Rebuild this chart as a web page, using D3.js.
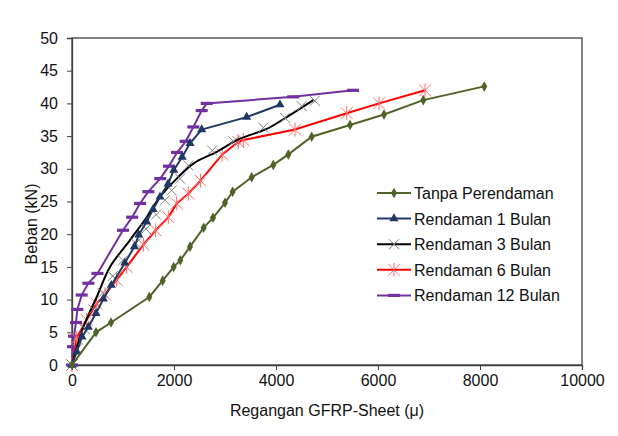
<!DOCTYPE html>
<html>
<head>
<meta charset="utf-8">
<script src="https://cdn.jsdelivr.net/npm/d3@7"></script>
<style>
  body { margin: 0; background: #fff; }
  text { font-family: Arial, "Liberation Sans", sans-serif; }
</style>
</head>
<body>
<div id="chart"></div>
<script>
// data: strain (micro) and load (kN)
var tanpaX = [0, 471, 765, 1516, 1778, 1993, 2124, 2314, 2582, 2765, 3000, 3150, 3523, 3947, 4242, 4700, 5451, 6118, 6888, 8084];
var tanpaY = [0, 5.0, 6.5, 10.4, 12.9, 15.0, 16.0, 18.1, 21.0, 22.5, 24.8, 26.5, 28.7, 30.6, 32.2, 34.9, 36.7, 38.3, 40.5, 42.6];

var bulan1X = [0, 92, 196, 320, 471, 614, 771, 1036, 1225, 1310, 1464, 1590, 1725, 1885, 1995, 2160, 2314, 2543, 3425, 4078];
var bulan1Y = [0, 2.0, 4.3, 5.8, 7.9, 10.1, 12.2, 15.6, 18.1, 19.9, 21.9, 23.8, 25.7, 27.7, 29.8, 31.8, 33.9, 36.0, 37.9, 39.8];

var bulan3X = [0, 100, 250, 420, 600, 800, 1000, 1250, 1450, 1650, 1824, 1955, 2118, 2280, 2750, 3163, 3751, 4177, 4504, 4760];
var bulan3Y = [0, 2.5, 5.5, 8.5, 11.0, 13.6, 16.0, 18.6, 20.8, 23.0, 25.2, 26.7, 28.5, 30.5, 32.8, 34.2, 36.3, 37.8, 39.6, 40.4];
// smoothed black curve of the 3 month series
var line3X = [0, 60, 222, 484, 745, 1137, 1464, 1725, 2053, 2379, 2837, 3294, 3817, 4209, 4732];
var line3Y = [0, 1.8, 5.8, 10.4, 15.0, 19.1, 22.6, 25.7, 28.5, 30.8, 32.6, 34.6, 36.1, 37.9, 40.5];

var bulan6X = [0, 92, 287, 484, 647, 876, 1072, 1400, 1640, 1889, 2053, 2280, 2520, 2945, 3261, 3359, 4373, 5386, 6020, 6922];
var bulan6Y = [0, 4.1, 6.9, 9.4, 10.8, 13.0, 15.0, 18.4, 20.6, 22.6, 24.7, 26.2, 28.2, 32.2, 34.1, 34.4, 36.0, 38.5, 40.0, 42.0];

var bulan12X = [0, 20, 39, 78, 105, 190, 320, 500, 1000, 1180, 1333, 1497, 1730, 1900, 2060, 2230, 2379, 2543, 2641, 4340, 5510];
var bulan12Y = [0, 2.8, 4.4, 6.5, 8.5, 10.7, 12.5, 14.0, 20.6, 22.6, 24.7, 26.5, 28.5, 30.4, 32.5, 34.2, 36.4, 38.9, 40.0, 41.0, 42.0];

var seriesNames = ["Tanpa Perendaman", "Rendaman 1 Bulan", "Rendaman 3 Bulan", "Rendaman 6 Bulan", "Rendaman 12 Bulan"];
var xTicks = [0, 2000, 4000, 6000, 8000, 10000];
var yTicks = [0, 5, 10, 15, 20, 25, 30, 35, 40, 45, 50];

var W = 618, H = 436;
var margin = {top: 38, right: 36, bottom: 71, left: 72};
var width = W - margin.left - margin.right,
    height = H - margin.top - margin.bottom;

var svg = d3.select("#chart").append("svg")
    .attr("width", W)
    .attr("height", H);

var g = svg.append("g")
    .attr("transform", "translate(" + margin.left + "," + margin.top + ")");

var x = d3.scaleLinear().domain([0, 10000]).range([0, width]);
var y = d3.scaleLinear().domain([0, 50]).range([height, 0]);

function pairs(xs, ys) {
    return xs.map(function(v, i) { return [v, ys[i]]; });
}

// frame
g.append("rect")
    .attr("width", width)
    .attr("height", height)
    .attr("fill", "none")
    .attr("stroke", "#404040")
    .attr("stroke-width", 1.3);

var xAxis = g.append("g")
    .attr("transform", "translate(0," + height + ")")
    .call(d3.axisBottom(x).tickValues(xTicks).tickFormat(d3.format("d")).tickSize(5).tickPadding(5));
var yAxis = g.append("g")
    .call(d3.axisLeft(y).tickValues(yTicks).tickFormat(d3.format("d")).tickSize(5).tickPadding(9));

[xAxis, yAxis].forEach(function(a) {
    a.select(".domain").attr("stroke", "#404040").attr("stroke-width", 1.3);
    a.selectAll(".tick line").attr("stroke", "#404040");
    a.selectAll("text").attr("font-size", "16px").attr("fill", "#111")
        .style("font-family", "Arial, 'Liberation Sans', sans-serif");
});

var line = d3.line()
    .x(function(d) { return x(d[0]); })
    .y(function(d) { return y(d[1]); });

var smooth = d3.line()
    .x(function(d) { return x(d[0]); })
    .y(function(d) { return y(d[1]); })
    .curve(d3.curveCatmullRom);

var green = "#4f6228", navy = "#1f3864", red = "#ff0000", purple = "#7030a0";

// marker drawers
function diamond(sel, color) {
    sel.append("path").attr("d", d3.symbol().type(d3.symbolDiamond).size(32)())
        .attr("fill", color);
}
function triangle(sel, color) {
    sel.append("path").attr("d", d3.symbol().type(d3.symbolTriangle).size(36)())
        .attr("fill", color);
}
function cross(sel) {
    sel.append("path").attr("d", "M-5,-5L5,5M-5,5L5,-5")
        .attr("stroke", "#808080").attr("stroke-width", 1).attr("fill", "none");
}
function star(sel) {
    sel.append("path").attr("d", "M-6,-6L6,6M-6,6L6,-6M0,-7L0,7")
        .attr("stroke", "#ff6b6b").attr("stroke-width", 1).attr("fill", "none");
}
function dash(sel) {
    sel.append("rect").attr("x", -6).attr("y", -1.6).attr("width", 12).attr("height", 3.2)
        .attr("fill", purple);
}

var series = [
    {data: pairs(tanpaX, tanpaY), lineData: pairs(tanpaX, tanpaY), color: green, gen: line, mark: function(s) { diamond(s, green); }},
    {data: pairs(bulan1X, bulan1Y), lineData: pairs(bulan1X, bulan1Y), color: navy, gen: line, mark: function(s) { triangle(s, navy); }},
    {data: pairs(bulan3X, bulan3Y), lineData: pairs(line3X, line3Y), color: "#000", gen: smooth, mark: cross},
    {data: pairs(bulan6X, bulan6Y), lineData: pairs(bulan6X, bulan6Y), color: red, gen: line, mark: star},
    {data: pairs(bulan12X, bulan12Y), lineData: pairs(bulan12X, bulan12Y), color: purple, gen: line, mark: dash}
];

// draw in reverse so the first series sits on top like in the picture
series.slice().reverse().forEach(function(s) {
    g.append("path")
        .datum(s.lineData)
        .attr("fill", "none")
        .attr("stroke", s.color)
        .attr("stroke-width", 2)
        .attr("d", s.gen);

    g.selectAll(null)
        .data(s.data)
        .enter()
        .append("g")
        .attr("transform", function(d) { return "translate(" + x(d[0]) + "," + y(d[1]) + ")"; })
        .each(function() { s.mark(d3.select(this)); });
});

// legend
var legend = g.append("g").attr("transform", "translate(305,155)");
series.forEach(function(s, i) {
    var row = legend.append("g").attr("transform", "translate(0," + (i * 25.6) + ")");
    row.append("line").attr("x1", 0).attr("x2", 34).attr("y1", 0).attr("y2", 0)
        .attr("stroke", s.color).attr("stroke-width", 2);
    var m = row.append("g").attr("transform", "translate(17,0)");
    s.mark(m);
    row.append("text").attr("x", 37).attr("y", 6)
        .attr("font-size", "16px").attr("fill", "#111")
        .text(seriesNames[i]);
});

// axis titles
svg.append("text")
    .attr("x", 327)
    .attr("y", 416)
    .attr("text-anchor", "middle")
    .attr("font-size", "16px")
    .attr("fill", "#111")
    .text("Regangan GFRP-Sheet (μ)");

svg.append("text")
    .attr("transform", "rotate(-90)")
    .attr("x", -224)
    .attr("y", 37)
    .attr("text-anchor", "middle")
    .attr("font-size", "16px")
    .attr("fill", "#111")
    .text("Beban (kN)");
</script>
</body>
</html>
